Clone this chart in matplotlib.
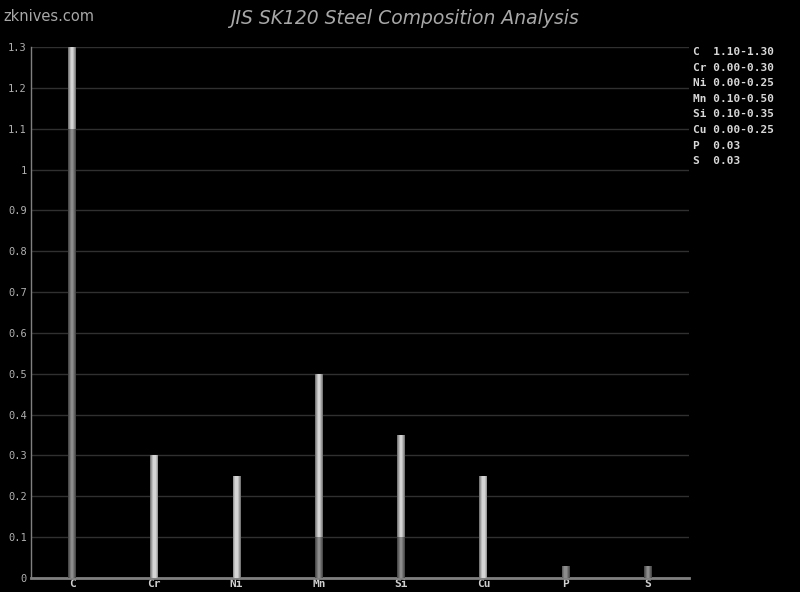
import matplotlib.pyplot as plt

elements = ["C", "Cr", "Ni", "Mn", "Si", "Cu", "P", "S"]
min_vals = [1.10, 0.00, 0.00, 0.10, 0.10, 0.00, 0.03, 0.03]
max_vals = [1.30, 0.30, 0.25, 0.50, 0.35, 0.25, 0.03, 0.03]
legend_lines = ["C  1.10-1.30", "Cr 0.00-0.30", "Ni 0.00-0.25", "Mn 0.10-0.50",
                "Si 0.10-0.35", "Cu 0.00-0.25", "P  0.03", "S  0.03"]
yticks = [0, 0.1, 0.2, 0.3, 0.4, 0.5, 0.6, 0.7, 0.8, 0.9, 1, 1.1, 1.2, 1.3]

fig = plt.figure(figsize=(8, 5.92), dpi=100, facecolor="black")
ax = fig.add_axes([0.03875, 0.0236, 0.8225, 0.897])
ax.set_facecolor("black")

x = list(range(len(elements)))
# layered bars to fake the cylinder shading
widths = [0.10, 0.08, 0.055, 0.03]
dark = ["#4a4a4a", "#606060", "#787878", "#8c8c8c"]
light = ["#787878", "#9a9a9a", "#bcbcbc", "#d4d4d4"]
upper = [mx - mn for mn, mx in zip(min_vals, max_vals)]
for w, dc, lc in zip(widths, dark, light):
    ax.bar(x, min_vals, width=w, color=dc, linewidth=0, zorder=3)
    ax.bar(x, upper, bottom=min_vals, width=w, color=lc, linewidth=0, zorder=3)

ax.set_xlim(-0.5, len(elements) - 0.5)
ax.set_ylim(0, 1.3)
ax.set_yticks(yticks)
ax.set_yticklabels([f"{v:g}" for v in yticks], family="DejaVu Sans Mono",
                   fontsize=7.5, color="#b0b0b0")
ax.set_xticks(x)
ax.set_xticklabels(elements, family="DejaVu Sans Mono", fontsize=8,
                   color="#d0d0d0", fontweight="bold")
ax.tick_params(axis="both", length=0, pad=3)
ax.tick_params(axis="x", pad=1)
ax.grid(axis="y", color="#303030", linewidth=1)
ax.set_axisbelow(True)

for side in ["top", "right"]:
    ax.spines[side].set_visible(False)
ax.spines["left"].set_color("#808080")
ax.spines["left"].set_linewidth(1)
ax.spines["bottom"].set_color("#808080")
ax.spines["bottom"].set_linewidth(2)

fig.text(0.506, 0.968, "JIS SK120 Steel Composition Analysis", ha="center",
         va="center", fontsize=13.5, style="italic", color="#a8a8a8")
fig.text(0.004, 0.972, "zknives.com", ha="left", va="center", fontsize=10.5,
         color="#a8a8a8")

for i, line in enumerate(legend_lines):
    fig.text(0.866, 1 - (52 + i * 15.6) / 592, line, ha="left", va="center",
             family="DejaVu Sans Mono", fontsize=8, color="#d8d8d8",
             fontweight="bold")

fig.savefig("out.png", dpi=100, facecolor="black")
